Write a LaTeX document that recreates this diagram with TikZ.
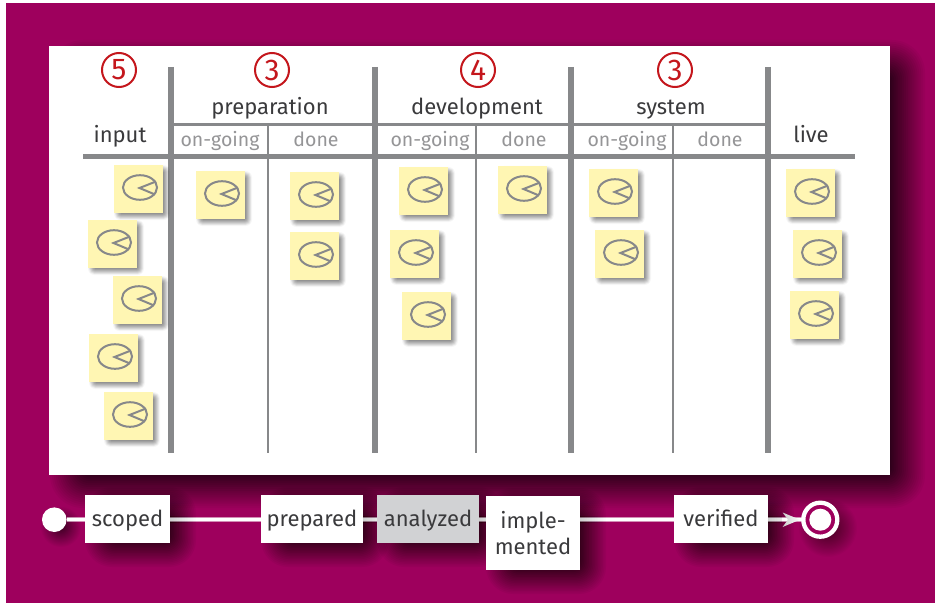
\documentclass[tikz,border=0pt]{standalone}
\usepackage{fontspec}
\setmainfont{Fira Sans}
\pgfdeclarelayer{base}
\pgfdeclarelayer{shade}
\pgfdeclarelayer{lines}
\pgfdeclarelayer{lineshade}
\pgfsetlayers{base,shade,lines,lineshade,main}
\definecolor{bgc}{HTML}{9E005D}
\definecolor{rulec}{HTML}{87888A}
\definecolor{notec}{HTML}{FFF6B3}
\definecolor{redc}{HTML}{C4161C}
\definecolor{txtc}{HTML}{3A3A3C}
\definecolor{subc}{HTML}{959597}
\definecolor{greyc}{HTML}{D1D2D4}
% opacity of one layer so that the accumulated alpha climbs linearly up to peak P
\newcommand{\layeralpha}[2]{% k P -> \la
  \pgfmathsetmacro{\aA}{#2*(#1)/24}\pgfmathsetmacro{\aB}{#2*((#1)-1)/24}%
  \pgfmathsetmacro{\la}{1-(1-\aA)/(1-\aB)}}
\newcommand{\softshadow}[6]{% x1 y1 x2 y2 blur peak
  \foreach \k in {1,...,24}{
    \layeralpha{\k}{#6}
    \pgfmathsetmacro{\rr}{#5*(1-(\k-1)/11.5)}
    \pgfmathsetmacro{\rc}{max(0.01,(\rr+#5)*0.75)}
    \fill[black,opacity=\la,rounded corners=\rc pt]
      ({#1-\rr},{#2-\rr}) rectangle ({#3+\rr},{#4+\rr});
  }}
\newcommand{\softdisc}[5]{% cx cy r blur peak
  \foreach \k in {1,...,24}{
    \layeralpha{\k}{#5}
    \pgfmathsetmacro{\rr}{max(0.5,#3+#4*(1-(\k-1)/11.5))}
    \fill[black,opacity=\la] (#1,#2) circle (\rr);
  }}
\tikzset{
  hdr/.style={font=\fontsize{22}{24}\selectfont,text=txtc,inner sep=0pt,anchor=base},
  subh/.style={font=\fontsize{19.5}{22}\selectfont,text=subc,inner sep=0pt,anchor=base},
  cnt/.style={circle,draw=redc,line width=2pt,minimum size=34pt,inner sep=0pt,text=redc,font=\fontsize{30}{30}\selectfont},
  thick rule/.style={draw=rulec,line width=5.3pt},
  thin rule/.style={draw=rulec,line width=2.7pt},
  mid rule/.style={draw=rulec,line width=3pt},
  state/.style={fill=white,inner sep=0pt,outer sep=0pt,text=txtc,font=\fontsize{22}{26.7}\selectfont,align=center},
  one line/.style={text height=17pt,text depth=3pt},
  flow/.style={draw=white,line width=3.2pt},
  flowedge/.style={draw=white,opacity=.55,line width=5.5pt},
}
\newcommand{\sticky}[3]{% name x y (top-left)
  \softshadow{#2+4}{#3+4}{#2+52}{#3+51}{4}{0.5}
  \node[fill=notec,minimum width=49pt,minimum height=48pt,inner sep=0pt,outer sep=0pt,anchor=north west] (#1) at (#2,#3) {};
  \draw[rulec,line width=2pt] (#2+26,#3+22.5) ellipse[x radius=17,y radius=12.3];
  \draw[rulec,line width=2pt,line join=miter] (#2+42,#3+16.5) -- (#2+25.5,#3+23) -- (#2+41,#3+29.5);
}
\newcommand{\boxshadow}[4]{\softshadow{#1+18}{#2+10}{#3+8}{#4+6}{18}{0.9}}
\newcommand{\boxlineshade}[4]{\softshadow{#1+18}{#2+10}{#3+8}{#4+6}{18}{0.25}}
\newcommand{\linkflow}[2]{%
  \draw[flowedge] (#1) -- (#2);
  \draw[flow] (#1) -- (#2);}
\begin{document}
\begin{tikzpicture}[x=1pt,y=-1pt]
\useasboundingbox (0,0) rectangle (936,604);
\begin{pgfonlayer}{base}
\fill[white] (0,0) rectangle (936,604);
\fill[bgc] (6,3) rectangle (935,603);
% board
\softshadow{72}{62}{903}{486}{22}{0.85}
\fill[white] (49,46) rectangle (890,475);
% rules
\foreach \x in {171,375,571,768}
  \draw[thick rule] (\x,67) -- (\x,453);
\foreach \x in {268,476,673}
  \draw[thin rule] (\x,125) -- (\x,453);
\draw[mid rule] (171,125) -- (768,125);
\draw[thick rule] (83,156.6) -- (855,156.6);
% headers
\node[hdr] (hinput) at (120,142.5) {input};
\node[hdr] (hprep) at (270,114.5) {preparation};
\node[hdr] (hdev) at (477,114.5) {development};
\node[hdr] (hsys) at (671,114.5) {system};
\node[hdr] (hlive) at (811,142.5) {live};
\foreach \n/\x/\t in {a/220/on-going,b/316/done,c/430/on-going,d/524/done,e/627/on-going,f/720/done}
  \node[subh] (sub\n) at (\x,147) {\t};
\node[cnt] (c5) at (119,70) {5};
\node[cnt] (c3a) at (272,70) {3};
\node[cnt] (c4) at (478,70) {4};
\node[cnt] (c3b) at (675,70) {3};
% stickies
\sticky{n1}{114}{165}\sticky{n2}{88}{220}\sticky{n3}{113}{276}\sticky{n4}{89}{334}\sticky{n5}{104}{392}
\sticky{n6}{196}{171}\sticky{n7}{290}{172}\sticky{n8}{290}{232}
\sticky{n9}{399}{167}\sticky{n10}{390}{230}\sticky{n11}{402}{292}\sticky{n12}{498}{166}
\sticky{n13}{589}{169}\sticky{n14}{595}{230}
\sticky{n15}{786}{169}\sticky{n16}{793}{230}\sticky{n17}{790}{291}
\end{pgfonlayer}
% flow shadows
\begin{pgfonlayer}{shade}
\boxshadow{85}{495}{170}{543}
\boxshadow{261}{495}{363}{543}
\boxshadow{377}{495}{479}{543}
\boxshadow{486}{496}{580}{570}
\boxshadow{674}{495}{768}{543}
\softdisc{61}{527}{8}{12}{0.7}
\softdisc{828}{528}{14}{15}{0.6}
\end{pgfonlayer}
% weak shadow across the connectors only
\begin{pgfonlayer}{lineshade}
\begin{scope}
\clip (66,516.7) rectangle (782,522.8);
\boxlineshade{85}{495}{170}{543}
\boxlineshade{261}{495}{363}{543}
\boxlineshade{377}{495}{479}{543}
\boxlineshade{486}{496}{580}{570}
\boxlineshade{674}{495}{768}{543}
\end{scope}
\end{pgfonlayer}
% flow nodes
\node[state,one line,minimum width=85pt,minimum height=48pt] (scoped) at (127.5,519) {scoped};
\node[state,one line,minimum width=102pt,minimum height=48pt] (prepared) at (312,519) {prepared};
\node[state,one line,fill=greyc,minimum width=102pt,minimum height=48pt] (analyzed) at (428,519) {analyzed};
\node[state,minimum width=94pt,minimum height=74pt] (impl) at (533,533) {imple-\\mented};
\node[state,one line,minimum width=94pt,minimum height=48pt] (verified) at (721,519) {verified};
\node[circle,fill=white,minimum size=24.6pt,inner sep=0pt,outer sep=0pt] (start) at (54.3,519.7) {};
\node[circle,draw=white,line width=4.3pt,fill=bgc,minimum size=34pt,inner sep=0pt,outer sep=0pt] (final) at (820.3,519.7) {};
\fill[white] (final.center) circle (11);
\coordinate (p1) at (scoped.west |- start);
\coordinate (p2) at (scoped.east |- start);
\coordinate (p3) at (prepared.west |- start);
\coordinate (p4) at (prepared.east |- start);
\coordinate (p5) at (analyzed.west |- start);
\coordinate (p6) at (analyzed.east |- start);
\coordinate (p7) at (impl.west |- start);
\coordinate (p8) at (impl.east |- start);
\coordinate (p9) at (verified.west |- start);
\coordinate (p10) at (verified.east |- start);
\begin{pgfonlayer}{lines}
\linkflow{start}{p1}
\linkflow{p2}{p3}
\linkflow{p4}{p5}
\linkflow{p6}{p7}
\linkflow{p8}{p9}
\linkflow{p10}{final.west}
\shade[left color=white!80!black,right color=white] (782.6,512.5) -- (800,519.7) -- (782.6,527) -- (788,519.7) -- cycle;
\end{pgfonlayer}
\end{tikzpicture}
\end{document}
